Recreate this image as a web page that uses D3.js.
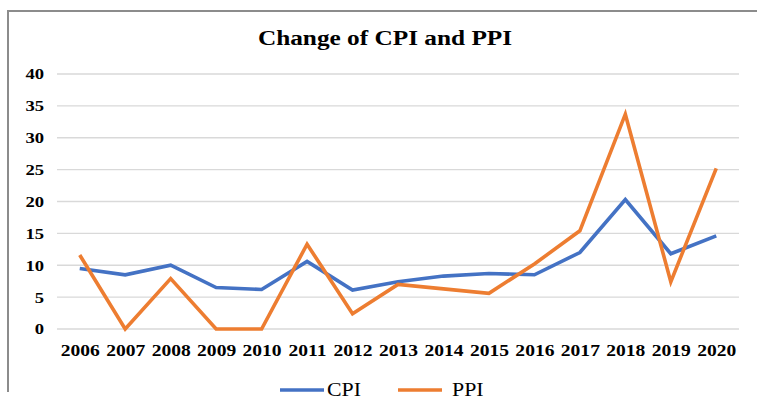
<!DOCTYPE html>
<html lang="en">
<head>
    <meta charset="UTF-8">
    <title>Change of CPI and PPI</title>
    <script src="https://d3js.org/d3.v7.min.js"></script>
    <style>
        body { margin: 0; background: #fff; }
        svg { display: block; font-family: "Liberation Serif", "Times New Roman", serif; }
        .grid line { stroke: #d9d9d9; stroke-width: 1.3; }
        .axis text { font-family: "Liberation Serif", "Times New Roman", serif; font-weight: bold; fill: #000; }
        .line { fill: none; stroke-width: 3.6; stroke-linejoin: miter; }
    </style>
</head>
<body>
    <svg></svg>
    <script>
        // data
        const years = ["2006", "2007", "2008", "2009", "2010", "2011", "2012", "2013",
                       "2014", "2015", "2016", "2017", "2018", "2019", "2020"];
        const cpi = [9.5, 8.5, 10.0, 6.5, 6.2, 10.6, 6.1, 7.4, 8.3, 8.7, 8.5, 12.0, 20.3, 11.8, 14.6];
        const ppi = [11.6, 0, 7.9, 0, 0, 13.3, 2.4, 7.0, 6.3, 5.6, 10.2, 15.4, 33.7, 7.4, 25.2];
        const yTicks = [0, 5, 10, 15, 20, 25, 30, 35, 40];
        const seriesNames = ["CPI", "PPI"];
        const colors = ["#4472C4", "#ED7D31"];

        const W = 757, H = 407;
        const stretch = 1.15; // the source picture's text is a bit wide
        const svg = d3.select("svg").attr("width", W).attr("height", H);

        // chart frame (cut off on the right and bottom)
        svg.append("path")
            .attr("d", `M8,${H - 15} V11 H${W + 5}`)
            .attr("fill", "none")
            .attr("stroke", "#8c8c8c")
            .attr("stroke-width", 2);

        svg.append("text")
            .attr("transform", `translate(385,45) scale(${stretch},1)`)
            .attr("text-anchor", "middle")
            .style("font-size", "22px")
            .style("font-weight", "bold")
            .text("Change of CPI and PPI");

        const x = d3.scalePoint().domain(years).range([57, 739]).padding(0.5);
        const y = d3.scaleLinear().domain([0, 40]).range([329, 74]);

        // gridlines
        svg.append("g").attr("class", "grid")
            .selectAll("line").data(yTicks).enter().append("line")
            .attr("x1", 57).attr("x2", 739)
            .attr("y1", d => y(d)).attr("y2", d => y(d));

        // y axis labels
        const yAxis = svg.append("g").attr("class", "axis")
            .attr("transform", "translate(44,0)")
            .call(d3.axisLeft(y).tickValues(yTicks).tickSize(0).tickPadding(0));
        yAxis.attr("font-family", null).attr("font-size", null);
        yAxis.select(".domain").remove();
        yAxis.selectAll("text")
            .style("font-size", "15.5px")
            .attr("transform", "scale(1.2,1)");

        // x axis labels
        const xAxis = svg.append("g").attr("class", "axis")
            .attr("transform", "translate(0,341)")
            .call(d3.axisBottom(x).tickSize(0).tickPadding(3));
        xAxis.attr("font-family", null).attr("font-size", null);
        xAxis.select(".domain").remove();
        xAxis.selectAll("text")
            .style("font-size", "17px")
            .attr("transform", `scale(${stretch},1)`);

        const line = d3.line()
            .x((d, i) => x(years[i]))
            .y(d => y(d));

        [cpi, ppi].forEach((vals, k) => {
            svg.append("path")
                .attr("class", "line")
                .attr("stroke", colors[k])
                .attr("d", line(vals));
        });

        // legend
        const legend = svg.append("g").attr("transform", "translate(280,390)");
        const legX = [0, 118];
        const legTextX = [47, 54];
        seriesNames.forEach((name, k) => {
            const g = legend.append("g").attr("transform", `translate(${legX[k]},0)`);
            g.append("line")
                .attr("x1", 0).attr("x2", 44)
                .attr("y1", 0).attr("y2", 0)
                .attr("stroke", colors[k])
                .attr("stroke-width", 3.6);
            g.append("text")
                .attr("transform", `translate(${legTextX[k]},6) scale(${stretch},1)`)
                .style("font-size", "19px")
                .text(name);
        });
    </script>
</body>
</html>
